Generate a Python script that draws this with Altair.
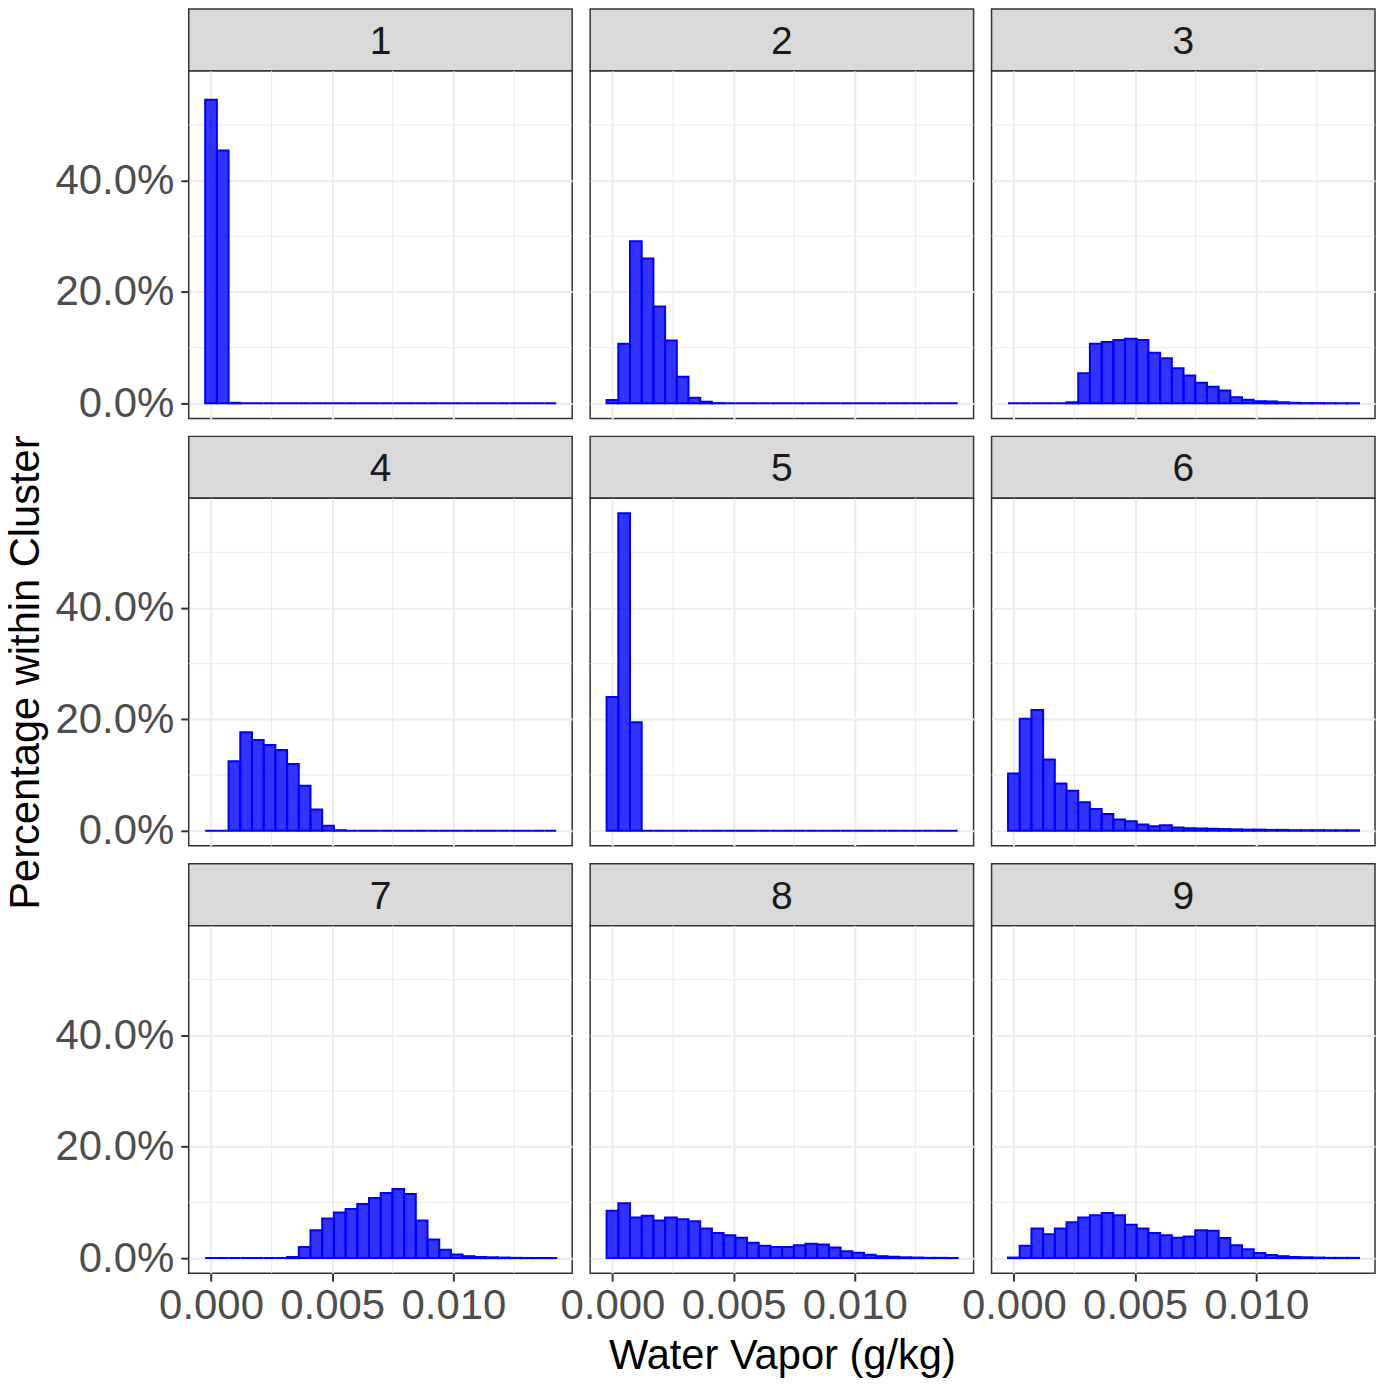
import altair as alt
import pandas as pd

FONT = "Liberation Sans"

clusters = ["1", "2", "3", "4", "5", "6", "7", "8", "9"]
n_bins = 30
x_max = 0.014

# percentage of observations within cluster, per bin (bins centred at i * x_max / 29)
c1 = [54.5, 45.4, 0.1, 0, 0, 0, 0, 0, 0, 0, 0, 0, 0, 0, 0,
      0, 0, 0, 0, 0, 0, 0, 0, 0, 0, 0, 0, 0, 0, 0]
c2 = [0.6, 10.7, 29.1, 26.0, 17.4, 11.3, 4.8, 1.0, 0.3, 0.05, 0, 0, 0, 0, 0,
      0, 0, 0, 0, 0, 0, 0, 0, 0, 0, 0, 0, 0, 0, 0]
c3 = [0, 0, 0, 0, 0, 0.2, 5.4, 10.7, 11.0, 11.4, 11.6, 11.4, 9.1, 8.1, 6.3,
      5.0, 3.7, 3.0, 2.3, 1.1, 0.65, 0.4, 0.35, 0.2, 0.1, 0.05, 0.05, 0.03, 0.02, 0.02]
c4 = [0, 0, 12.5, 17.7, 16.3, 15.4, 14.5, 12.0, 8.1, 3.8, 0.9, 0.1, 0, 0, 0,
      0, 0, 0, 0, 0, 0, 0, 0, 0, 0, 0, 0, 0, 0, 0]
c5 = [24.0, 57.0, 19.5, 0, 0, 0, 0, 0, 0, 0, 0, 0, 0, 0, 0,
      0, 0, 0, 0, 0, 0, 0, 0, 0, 0, 0, 0, 0, 0, 0]
c6 = [10.3, 20.1, 21.7, 12.8, 8.5, 7.2, 5.1, 3.9, 3.0, 2.0, 1.7, 1.1, 0.8, 1.0, 0.6,
      0.45, 0.4, 0.35, 0.3, 0.25, 0.2, 0.2, 0.15, 0.15, 0.1, 0.1, 0.1, 0.08, 0.08, 0.08]
c7 = [0, 0, 0, 0, 0, 0, 0, 0.2, 2.0, 5.0, 7.1, 8.2, 8.8, 9.7, 10.8,
      11.7, 12.4, 11.5, 6.75, 3.35, 1.5, 0.65, 0.35, 0.2, 0.15, 0.1, 0.05, 0.03, 0.02, 0.02]
c8 = [8.5, 9.85, 7.3, 7.6, 6.75, 7.3, 7.0, 6.6, 5.3, 4.5, 4.1, 3.65, 2.75, 2.2, 2.0,
      2.0, 2.3, 2.6, 2.45, 1.9, 1.25, 0.95, 0.6, 0.35, 0.25, 0.15, 0.1, 0.05, 0.05, 0.03]
c9 = [0.1, 2.2, 5.3, 4.3, 5.3, 6.45, 7.3, 7.7, 8.1, 7.7, 6.0, 5.3, 4.5, 4.1, 3.65,
      3.9, 5.0, 4.9, 3.6, 2.3, 1.6, 0.9, 0.55, 0.35, 0.2, 0.15, 0.1, 0.05, 0.05, 0.05]
series = [c1, c2, c3, c4, c5, c6, c7, c8, c9]

x_ticks = [0.0, 0.005, 0.010]
y_ticks = [0.0, 0.2, 0.4]
x_minor = [0.0025, 0.0075, 0.0125]
y_minor = [0.1, 0.3, 0.5]

PW, PH, SH, GAP = 384, 348, 62, 18
bin_w = x_max / (n_bins - 1)
x_scale = alt.Scale(domain=[-0.00092, 0.0149], nice=False, zero=False)
y_scale = alt.Scale(domain=[-0.027, 0.597], nice=False, zero=False)

GRID = "#EBEBEB"
LABEL_SIZE = 42
TITLE_SIZE = 41.7


def axis_x(show, title):
    if show:
        kw = dict(labels=True, ticks=True, labelFontSize=LABEL_SIZE, labelColor="#4D4D4D",
                  labelFont=FONT, labelPadding=4, labelFlush=False, labelOverlap=False,
                  tickColor="#333333", tickSize=8, tickWidth=2)
    else:
        kw = dict(labels=False, ticks=False)
    if title:
        kw.update(title=title, titleFontSize=TITLE_SIZE, titleFont=FONT, titleFontWeight="normal",
                  titleColor="#000000", titlePadding=9)
    return alt.Axis(values=x_ticks, format=".3f", grid=True, gridColor=GRID, gridWidth=2,
                    domain=False, **kw)


def axis_y(show, title):
    if show:
        kw = dict(labels=True, ticks=True, labelFontSize=LABEL_SIZE, labelColor="#4D4D4D",
                  labelFont=FONT, labelPadding=7, labelFlush=False, labelOverlap=False,
                  tickColor="#333333", tickSize=8, tickWidth=2)
    else:
        kw = dict(labels=False, ticks=False)
    if title:
        kw.update(title=title, titleFontSize=TITLE_SIZE, titleFont=FONT, titleFontWeight="normal",
                  titleColor="#000000", titlePadding=7)
    return alt.Axis(values=y_ticks, format=".1%", grid=True, gridColor=GRID, gridWidth=2,
                    domain=False, **kw)


def plot_panel(idx):
    r, c = divmod(idx, 3)
    vals = series[idx]
    df = pd.DataFrame({
        "x0": [i * bin_w - bin_w / 2 for i in range(n_bins)],
        "x1": [i * bin_w + bin_w / 2 for i in range(n_bins)],
        "pct": [v / 100.0 for v in vals],
        "base": [0.0] * n_bins,
    })
    show_x = r == 2
    show_y = c == 0
    xt = "Water Vapor (g/kg)" if (r == 2 and c == 1) else None
    yt = "Percentage within Cluster" if (r == 1 and c == 0) else None

    if xt:
        xenc = alt.X("x0:Q", scale=x_scale, axis=axis_x(show_x, xt))
    else:
        xenc = alt.X("x0:Q", scale=x_scale, axis=axis_x(show_x, None), title=None)
    if yt:
        yenc = alt.Y("pct:Q", scale=y_scale, axis=axis_y(show_y, yt))
    else:
        yenc = alt.Y("pct:Q", scale=y_scale, axis=axis_y(show_y, None), title=None)

    bars = alt.Chart(df).mark_bar(
        fill="#0000FF", fillOpacity=0.8, stroke="#0000FF", strokeWidth=2
    ).encode(x=xenc, x2="x1:Q", y=yenc, y2="base:Q")

    mx = alt.Chart(pd.DataFrame({"v": x_minor})).mark_rule(color=GRID, strokeWidth=1).encode(
        x=alt.X("v:Q", scale=x_scale))
    my = alt.Chart(pd.DataFrame({"v": y_minor})).mark_rule(color=GRID, strokeWidth=1).encode(
        y=alt.Y("v:Q", scale=y_scale))

    return alt.layer(mx, my, bars).properties(
        width=PW, height=PH,
        view=alt.ViewBackground(fill="white", stroke="#333333", strokeWidth=1.5))


def strip_panel(idx):
    r, _ = divmod(idx, 3)
    top = 0 if r == 0 else GAP
    src = alt.Chart(pd.DataFrame({"label": [clusters[idx]]}))
    box = src.mark_rect(fill="#D9D9D9", stroke="#333333", strokeWidth=1.5).encode(
        x=alt.value(0), x2=alt.value(PW), y=alt.value(top), y2=alt.value(top + SH))
    txt = src.mark_text(
        font=FONT, fontSize=39, color="#1A1A1A", align="center", baseline="middle"
    ).encode(text="label:N", x=alt.value(PW / 2), y=alt.value(top + SH / 2 + 2))
    return alt.layer(box, txt).properties(
        width=PW, height=top + SH,
        view=alt.ViewBackground(fill="transparent", stroke="transparent"))


cells = []
for r in range(3):
    for c in range(3):
        cells.append(strip_panel(3 * r + c))
    for c in range(3):
        cells.append(plot_panel(3 * r + c))

chart = alt.concat(
    *cells, columns=3, spacing=alt.RowColnumber(row=0, column=GAP),
    bounds="flush", align="each"
).properties(background="white", padding={"top": -2, "left": -3, "right": 0, "bottom": 0})

chart.save("out.html", embed_options={"renderer": "svg", "actions": False})
